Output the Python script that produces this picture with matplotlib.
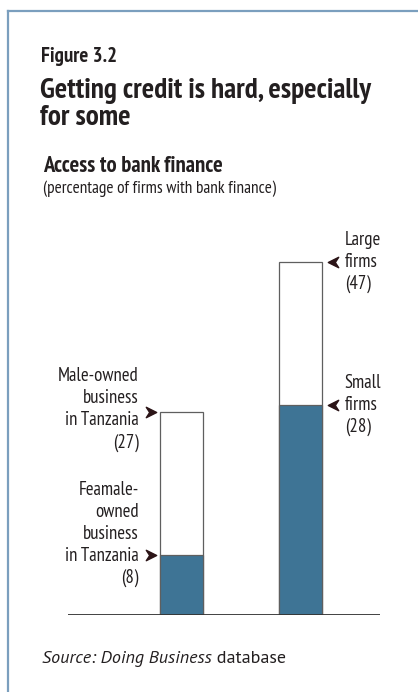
import matplotlib.pyplot as plt
from matplotlib.lines import Line2D
from matplotlib.path import Path

# Access to bank finance, percentage of firms
positions = [0, 1]
outer_values = [27, 47]   # male-owned business / large firms
inner_values = [8, 28]    # female-owned business / small firms
outer_names = ["Male-owned\nbusiness\nin Tanzania", "Large\nfirms"]
inner_names = ["Feamale-\nowned\nbusiness\nin Tanzania", "Small\nfirms"]

W, H = 418, 692
NARROW = ['PT Sans Narrow', 'DejaVu Sans']
SOURCE = ['PT Sans', 'DejaVu Sans']
BLUE = '#3e7495'
EDGE = '#5f5f5f'
ARROW = '#2b1417'
INK = '#231f20'

fig = plt.figure(figsize=(W / 100, H / 100), dpi=100)


def fx(px):
    return px / W


def fy(py):
    return 1 - py / H


# frame lines at the top and left
frame = '#7b9fbe'
fig.add_artist(Line2D([fx(8), fx(418)], [fy(11), fy(11)], color=frame, lw=1.6))
fig.add_artist(Line2D([fx(8), fx(8)], [fy(11), fy(692)], color=frame, lw=1.6))

# headings
fig.text(fx(41), fy(62), "Figure 3.2", family=NARROW, fontsize=15,
         fontweight='bold', color=INK)
fig.text(fx(40), fy(98), "Getting credit is hard, especially", family=NARROW,
         fontsize=21, fontweight='bold', color=INK)
fig.text(fx(40), fy(125), "for some", family=NARROW, fontsize=21,
         fontweight='bold', color=INK)
fig.text(fx(43), fy(172), "Access to bank finance", family=NARROW,
         fontsize=16.3, fontweight='bold', color=INK)
fig.text(fx(43), fy(193), "(percentage of firms with bank finance)",
         family=NARROW, fontsize=12.4, color=INK)

# plot area: baseline runs from x=68 to x=380 px at y=615 px
ax = fig.add_axes([fx(68), fy(615), fx(380) - fx(68), (615 - 230) / H])
ax.set_xlim(-0.954, 1.668)
ax.set_ylim(0, 51.3)
ax.axis('off')

bw = 0.36
ax.bar(positions, outer_values, width=bw, color='white', edgecolor=EDGE,
       linewidth=0.9, zorder=2)
ax.bar(positions, inner_values, width=bw, color=BLUE, edgecolor=EDGE,
       linewidth=0.9, zorder=3)
ax.axhline(0, color='#333333', lw=1.3, zorder=4)

# notched arrowhead markers
right_arrow = Path([(-1, 1), (1, 0), (-1, -1), (-0.35, 0), (-1, 1)],
                   [Path.MOVETO, Path.LINETO, Path.LINETO, Path.LINETO, Path.CLOSEPOLY])
left_arrow = Path([(1, 1), (-1, 0), (1, -1), (0.35, 0), (1, 1)],
                  [Path.MOVETO, Path.LINETO, Path.LINETO, Path.LINETO, Path.CLOSEPOLY])

lab_kw = dict(family=NARROW, fontsize=13.5, color=INK, linespacing=1.29,
              textcoords='offset points', annotation_clip=False)

# left bar: labels on the left, arrows pointing right
left_edge = positions[0] - bw / 2
for val, name, dy in [(outer_values[0], outer_names[0], 2),
                      (inner_values[0], inner_names[0], 15)]:
    ax.plot(left_edge - 0.077, val, marker=right_arrow, ms=7.5, color=ARROW,
            ls='none', clip_on=False, zorder=5)
    ax.annotate(f"{name}\n({val})", (left_edge, val), xytext=(-15.5, dy),
                ha='right', va='center', **lab_kw)

# right bar: labels on the right, arrows pointing left
right_edge = positions[1] + bw / 2
for val, name in [(outer_values[1], outer_names[1]),
                  (inner_values[1], inner_names[1])]:
    ax.plot(right_edge + 0.092, val, marker=left_arrow, ms=7.5, color=ARROW,
            ls='none', clip_on=False, zorder=5)
    ax.annotate(f"{name}\n({val})", (right_edge, val), xytext=(16.5, 0),
                ha='left', va='center', **lab_kw)

# source note: italic part followed by regular text
src = fig.text(fx(42), fy(663), "Source: Doing Business", family=SOURCE,
               fontsize=13, style='italic', color=INK)
fig.canvas.draw()
bb = src.get_window_extent(fig.canvas.get_renderer())
fig.text(bb.x1 / W, fy(663), " database", family=SOURCE,
         fontsize=13, color=INK)

fig.savefig('out.png', dpi=100)
